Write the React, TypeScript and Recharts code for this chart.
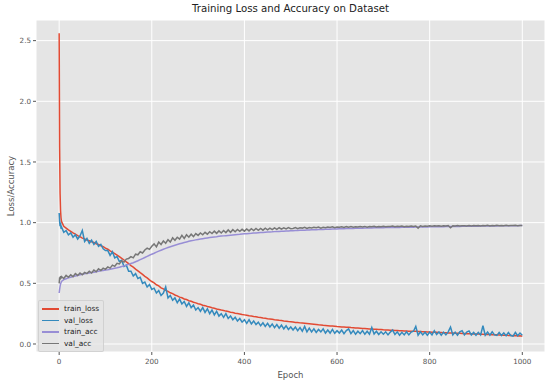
import { LineChart, Line, XAxis, YAxis, CartesianGrid, Legend } from 'recharts'

const epochs = [
  0, 1, 2, 3, 4,
  5, 10, 15, 20, 25, 30, 35, 40, 45, 50,
  55, 60, 65, 70, 75, 80, 85, 90, 95, 100,
  105, 110, 115, 120, 125, 130, 135, 140, 145, 150,
  155, 160, 165, 170, 175, 180, 185, 190, 195, 200,
  205, 210, 215, 220, 225, 230, 235, 240, 245, 250,
  255, 260, 265, 270, 275, 280, 285, 290, 295, 300,
  305, 310, 315, 320, 325, 330, 335, 340, 345, 350,
  355, 360, 365, 370, 375, 380, 385, 390, 395, 400,
  405, 410, 415, 420, 425, 430, 435, 440, 445, 450,
  455, 460, 465, 470, 475, 480, 485, 490, 495, 500,
  505, 510, 515, 520, 525, 530, 535, 540, 545, 550,
  555, 560, 565, 570, 575, 580, 585, 590, 595, 600,
  605, 610, 615, 620, 625, 630, 635, 640, 645, 650,
  655, 660, 665, 670, 675, 680, 685, 690, 695, 700,
  705, 710, 715, 720, 725, 730, 735, 740, 745, 750,
  755, 760, 765, 770, 775, 780, 785, 790, 795, 800,
  805, 810, 815, 820, 825, 830, 835, 840, 845, 850,
  855, 860, 865, 870, 875, 880, 885, 890, 895, 900,
  905, 910, 915, 920, 925, 930, 935, 940, 945, 950,
  955, 960, 965, 970, 975, 980, 985, 990, 995, 1000,
]

const trainLoss = [
  2.56, 1.62, 1.24, 1.1, 1.04,
  1.01, 0.97, 0.955, 0.94, 0.928, 0.915, 0.905, 0.893, 0.884, 0.872,
  0.866, 0.856, 0.851, 0.842, 0.836, 0.826, 0.82, 0.81, 0.802, 0.79,
  0.781, 0.768, 0.757, 0.745, 0.733, 0.72, 0.706, 0.692, 0.676, 0.662,
  0.646, 0.633, 0.617, 0.603, 0.588, 0.574, 0.557, 0.545, 0.528, 0.515,
  0.503, 0.488, 0.479, 0.463, 0.454, 0.442, 0.434, 0.422, 0.415, 0.404,
  0.397, 0.386, 0.381, 0.371, 0.366, 0.357, 0.352, 0.344, 0.339, 0.332,
  0.327, 0.32, 0.316, 0.309, 0.305, 0.299, 0.295, 0.289, 0.285, 0.28,
  0.276, 0.271, 0.267, 0.262, 0.259, 0.254, 0.251, 0.247, 0.243, 0.24,
  0.237, 0.232, 0.23, 0.226, 0.224, 0.22, 0.218, 0.214, 0.212, 0.208,
  0.206, 0.203, 0.2, 0.198, 0.195, 0.193, 0.19, 0.188, 0.185, 0.183,
  0.181, 0.178, 0.177, 0.174, 0.172, 0.17, 0.168, 0.166, 0.164, 0.162,
  0.16, 0.158, 0.157, 0.154, 0.153, 0.151, 0.149, 0.148, 0.146, 0.144,
  0.143, 0.141, 0.14, 0.138, 0.137, 0.135, 0.134, 0.132, 0.131, 0.13,
  0.128, 0.127, 0.126, 0.124, 0.124, 0.122, 0.121, 0.119, 0.119, 0.117,
  0.116, 0.115, 0.114, 0.113, 0.112, 0.111, 0.11, 0.109, 0.108, 0.107,
  0.106, 0.105, 0.104, 0.104, 0.102, 0.102, 0.1, 0.1, 0.099, 0.098,
  0.097, 0.096, 0.096, 0.094, 0.094, 0.093, 0.092, 0.091, 0.091, 0.09,
  0.089, 0.088, 0.088, 0.087, 0.086, 0.085, 0.085, 0.084, 0.083, 0.082,
  0.082, 0.081, 0.08, 0.079, 0.079, 0.078, 0.077, 0.076, 0.076, 0.075,
  0.074, 0.072, 0.073, 0.07, 0.071, 0.068, 0.069, 0.066, 0.067, 0.064,
]

const valLoss = [
  1.08, 1.01, 0.97, 1.0, 0.95,
  0.965, 0.92, 0.935, 0.9, 0.915, 0.88, 0.9, 0.865, 0.89, 0.935,
  0.845, 0.87, 0.83, 0.855, 0.82, 0.845, 0.805, 0.82, 0.785, 0.77,
  0.77, 0.73, 0.76, 0.71, 0.72, 0.68, 0.69, 0.64, 0.65, 0.6,
  0.6, 0.56, 0.58, 0.54, 0.55, 0.5, 0.51, 0.47, 0.49, 0.45,
  0.46, 0.42, 0.44, 0.4, 0.42, 0.47, 0.38, 0.4, 0.36, 0.38,
  0.34, 0.37, 0.33, 0.35, 0.31, 0.34, 0.3, 0.32, 0.28, 0.3,
  0.27, 0.3, 0.26, 0.29, 0.25, 0.28, 0.24, 0.27, 0.23, 0.25,
  0.22, 0.25, 0.21, 0.23, 0.2, 0.22, 0.19, 0.21, 0.18, 0.2,
  0.17, 0.2, 0.165, 0.19, 0.16, 0.18, 0.15, 0.175, 0.145, 0.17,
  0.14, 0.165, 0.135, 0.16, 0.13, 0.155, 0.125, 0.15, 0.12, 0.14,
  0.115, 0.14, 0.11, 0.135, 0.105, 0.145, 0.1, 0.13, 0.1, 0.125,
  0.095, 0.12, 0.1, 0.125, 0.09, 0.115, 0.09, 0.12, 0.088, 0.11,
  0.09, 0.115, 0.085, 0.11, 0.125, 0.085, 0.11, 0.08, 0.105, 0.085,
  0.11, 0.08, 0.105, 0.08, 0.135, 0.082, 0.105, 0.078, 0.1, 0.08,
  0.1, 0.075, 0.098, 0.115, 0.078, 0.1, 0.072, 0.096, 0.075, 0.1,
  0.075, 0.098, 0.105, 0.145, 0.072, 0.1, 0.075, 0.097, 0.072, 0.098,
  0.075, 0.11, 0.078, 0.1, 0.072, 0.098, 0.075, 0.1, 0.14, 0.075,
  0.098, 0.072, 0.1, 0.11, 0.075, 0.098, 0.108, 0.075, 0.095, 0.072,
  0.096, 0.075, 0.15, 0.072, 0.098, 0.072, 0.1, 0.075, 0.07, 0.095,
  0.07, 0.092, 0.068, 0.095, 0.07, 0.065, 0.095, 0.068, 0.09, 0.072,
]

const trainAcc = [
  0.42, 0.45, 0.475, 0.495, 0.505,
  0.515, 0.53, 0.538, 0.545, 0.55, 0.555, 0.56, 0.565, 0.57, 0.575,
  0.578, 0.582, 0.585, 0.589, 0.592, 0.596, 0.6, 0.603, 0.606, 0.61,
  0.612, 0.616, 0.62, 0.624, 0.628, 0.633, 0.638, 0.644, 0.65, 0.656,
  0.663, 0.67, 0.678, 0.686, 0.695, 0.704, 0.713, 0.722, 0.731, 0.74,
  0.748, 0.757, 0.765, 0.773, 0.781, 0.788, 0.795, 0.802, 0.808, 0.814,
  0.82, 0.826, 0.831, 0.836, 0.841, 0.846, 0.85, 0.854, 0.858, 0.862,
  0.865, 0.868, 0.871, 0.874, 0.877, 0.88, 0.882, 0.884, 0.887, 0.889,
  0.891, 0.893, 0.895, 0.897, 0.899, 0.901, 0.903, 0.904, 0.906, 0.908,
  0.909, 0.911, 0.912, 0.914, 0.915, 0.917, 0.918, 0.919, 0.921, 0.922,
  0.923, 0.924, 0.926, 0.927, 0.928, 0.929, 0.93, 0.931, 0.932, 0.933,
  0.934, 0.935, 0.936, 0.937, 0.937, 0.938, 0.939, 0.94, 0.941, 0.941,
  0.942, 0.943, 0.944, 0.944, 0.945, 0.946, 0.946, 0.947, 0.948, 0.948,
  0.949, 0.95, 0.95, 0.951, 0.951, 0.952, 0.952, 0.953, 0.953, 0.954,
  0.954, 0.955, 0.955, 0.956, 0.956, 0.957, 0.957, 0.958, 0.958, 0.958,
  0.959, 0.959, 0.96, 0.96, 0.961, 0.961, 0.961, 0.962, 0.962, 0.962,
  0.963, 0.963, 0.963, 0.964, 0.964, 0.964, 0.965, 0.965, 0.965, 0.966,
  0.966, 0.966, 0.967, 0.967, 0.967, 0.967, 0.968, 0.968, 0.968, 0.969,
  0.969, 0.969, 0.969, 0.97, 0.97, 0.97, 0.97, 0.971, 0.971, 0.971,
  0.971, 0.972, 0.972, 0.972, 0.972, 0.973, 0.973, 0.973, 0.973, 0.974,
  0.974, 0.974, 0.974, 0.974, 0.975, 0.975, 0.975, 0.975, 0.976, 0.976,
]

const valAcc = [
  0.5, 0.55, 0.53, 0.56, 0.54,
  0.555, 0.54, 0.565, 0.55, 0.57, 0.555, 0.58, 0.565, 0.585, 0.57,
  0.59, 0.58, 0.6, 0.585, 0.61, 0.595, 0.62, 0.605, 0.625, 0.615,
  0.635, 0.625, 0.65, 0.64, 0.665, 0.66, 0.685, 0.675, 0.7, 0.705,
  0.72, 0.71, 0.74, 0.735, 0.76, 0.75, 0.775, 0.79, 0.78, 0.805,
  0.825, 0.8, 0.84, 0.82, 0.85, 0.83, 0.86, 0.84, 0.875, 0.855,
  0.88, 0.865, 0.895, 0.87, 0.9, 0.88, 0.905, 0.885, 0.91, 0.895,
  0.915, 0.9, 0.92, 0.905, 0.925, 0.91, 0.93, 0.912, 0.932, 0.915,
  0.935, 0.918, 0.94, 0.92, 0.942, 0.925, 0.944, 0.928, 0.945, 0.93,
  0.948, 0.932, 0.95, 0.935, 0.952, 0.937, 0.953, 0.938, 0.954, 0.94,
  0.955, 0.942, 0.957, 0.944, 0.958, 0.946, 0.958, 0.948, 0.96, 0.95,
  0.952, 0.96, 0.95, 0.958, 0.955, 0.962, 0.952, 0.96, 0.956, 0.962,
  0.958, 0.963, 0.955, 0.962, 0.958, 0.964, 0.96, 0.966, 0.958, 0.964,
  0.962, 0.966, 0.96, 0.967, 0.963, 0.968, 0.962, 0.966, 0.964, 0.968,
  0.965, 0.969, 0.963, 0.968, 0.966, 0.97, 0.964, 0.969, 0.967, 0.97,
  0.966, 0.969, 0.968, 0.972, 0.967, 0.97, 0.968, 0.973, 0.967, 0.971,
  0.969, 0.973, 0.968, 0.972, 0.955, 0.974, 0.969, 0.972, 0.971, 0.974,
  0.97, 0.974, 0.972, 0.975, 0.97, 0.974, 0.972, 0.976, 0.958, 0.975,
  0.973, 0.976, 0.972, 0.975, 0.975, 0.973, 0.977, 0.972, 0.976, 0.974,
  0.977, 0.973, 0.976, 0.974, 0.978, 0.973, 0.976, 0.975, 0.978, 0.974,
  0.977, 0.975, 0.978, 0.974, 0.977, 0.976, 0.978, 0.975, 0.977, 0.976,
]

const xTicks = [0, 200, 400, 600, 800, 1000]
const yTicks = [0, 0.5, 1, 1.5, 2, 2.5]

const SERIES = [
  { key: 'train_loss', color: '#E24A33' },
  { key: 'val_loss', color: '#348ABD' },
  { key: 'train_acc', color: '#988ED5' },
  { key: 'val_acc', color: '#777777' },
]

const data = epochs.map((epoch, i) => ({
  epoch,
  train_loss: trainLoss[i],
  val_loss: valLoss[i],
  train_acc: trainAcc[i],
  val_acc: valAcc[i],
}))

const FONT = '"DejaVu Sans", sans-serif'
const TICK = { fontSize: 7.2, fill: '#555555', fontFamily: FONT }

function LegendBox() {
  return (
    <div style={{
      background: 'rgba(229,229,229,0.8)',
      border: '1px solid rgba(204,204,204,0.8)',
      borderRadius: 2,
      padding: '2px 4px 2px 3px',
      fontFamily: FONT,
      fontSize: 7.4,
      color: '#222',
    }}>
      {SERIES.map(s => (
        <div key={s.key} style={{ display: 'flex', alignItems: 'center', height: 11.5 }}>
          <span style={{ display: 'inline-block', width: 17, height: 1.5, background: s.color, marginRight: 5 }} />
          <span>{s.key}</span>
        </div>
      ))}
    </div>
  )
}

export default function App() {
  return (
    <div style={{ position: 'relative', width: 550, height: 386, background: '#ffffff', fontFamily: FONT }}>
      <style>{'body{margin:0}'}</style>
      <LineChart width={550} height={386} data={data} margin={{ top: 20, right: 5, bottom: 14, left: 0 }}>
        <CartesianGrid fill="#E5E5E5" stroke="#FFFFFF" strokeWidth={1} />
        <XAxis
          type="number"
          dataKey="epoch"
          domain={[-50, 1049]}
          ticks={xTicks}
          allowDataOverflow
          axisLine={false}
          tickSize={3}
          tickMargin={4}
          tickLine={{ stroke: '#555555' }}
          tick={TICK}
          height={20}
        />
        <YAxis
          type="number"
          domain={[-0.066, 2.67]}
          ticks={yTicks}
          allowDataOverflow
          axisLine={false}
          tickSize={3}
          tickLine={{ stroke: '#555555' }}
          tick={TICK}
          tickFormatter={(v: number) => v.toFixed(1)}
          width={36}
        />
        <Legend
          layout="vertical"
          align="center"
          verticalAlign="middle"
          wrapperStyle={{ left: 38, top: 300, width: 'auto' }}
          content={() => <LegendBox />}
        />
        {SERIES.map(s => (
          <Line
            key={s.key}
            type="linear"
            dataKey={s.key}
            stroke={s.color}
            strokeWidth={1.5}
            dot={false}
            isAnimationActive={false}
          />
        ))}
      </LineChart>
      <div style={{ position: 'absolute', left: 0, width: 581, top: 3, textAlign: 'center', fontSize: 10.2, color: '#222' }}>
        Training Loss and Accuracy on Dataset
      </div>
      <div style={{ position: 'absolute', left: 0, width: 581, top: 370, textAlign: 'center', fontSize: 8.5, color: '#555555' }}>
        Epoch
      </div>
      <div style={{
        position: 'absolute', left: 11, top: 186, fontSize: 8.5, color: '#555555',
        transform: 'translate(-50%, -50%) rotate(-90deg)', whiteSpace: 'nowrap',
      }}>
        Loss/Accuracy
      </div>
    </div>
  )
}
